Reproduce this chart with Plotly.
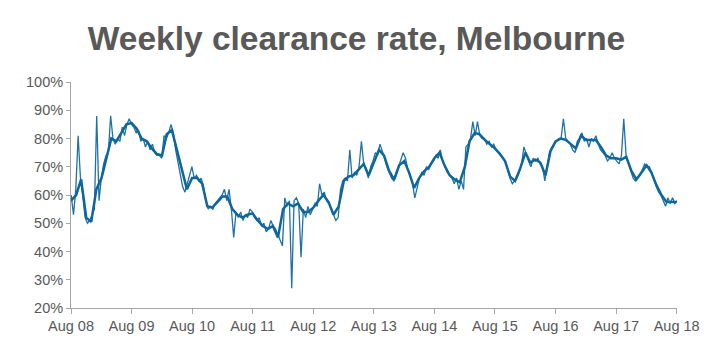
import pandas as pd
import plotly.graph_objects as go

# Weekly clearance rate (read roughly fortnightly from the chart), %
raw_y1 = [60, 53, 62, 81, 66, 60, 52, 50, 51, 53, 55, 88, 58, 66, 71, 74, 75, 88, 80, 78, 80, 79, 84, 81, 85, 87]
raw_y2 = [85, 84, 82, 83, 79, 80, 77, 79, 76, 78, 75, 74, 74, 73, 81, 80, 82, 85, 82, 76, 72, 68, 63, 61, 64, 66]
raw_y3 = [70, 66, 67, 65, 66, 63, 58, 55, 56, 55, 57, 58, 59, 60, 62, 58, 62, 55, 45, 54, 52, 54, 51, 53, 52, 55]
raw_y4 = [54, 52, 51, 52, 49, 50, 47, 48, 51, 49, 48, 46, 44, 42, 59, 56, 58, 27, 58, 59, 57, 38, 55, 52, 56, 53]
raw_y5 = [55, 57, 56, 64, 60, 61, 58, 57, 55, 53, 51, 52, 62, 65, 66, 65, 76, 66, 68, 67, 70, 79, 71, 69, 66, 70]
raw_y6 = [72, 75, 74, 78, 75, 73, 70, 68, 66, 65, 67, 70, 73, 75, 73, 69, 67, 64, 59, 63, 66, 68, 67, 70, 69, 71]
raw_y7 = [72, 74, 73, 76, 72, 70, 68, 67, 66, 64, 66, 62, 65, 62, 77, 78, 80, 86, 81, 86, 81, 80, 80, 78, 79, 77]
raw_y8 = [78, 76, 75, 74, 73, 72, 69, 66, 64, 65, 66, 68, 71, 77, 74, 72, 70, 73, 72, 73, 71, 70, 65, 70, 75, 77]
raw_y9 = [78, 79, 80, 80, 87, 80, 79, 78, 76, 75, 79, 80, 82, 79, 80, 77, 80, 79, 81, 78, 76, 75, 74, 72, 73, 75]
raw_y10 = [73, 72, 71, 74, 87, 74, 71, 68, 66, 65, 66, 67, 69, 71, 70, 70, 68, 65, 63, 61, 60, 58, 56, 59, 57, 59, 57, 58]
raw_values = raw_y1 + raw_y2 + raw_y3 + raw_y4 + raw_y5 + raw_y6 + raw_y7 + raw_y8 + raw_y9 + raw_y10
raw_dates = pd.date_range("2008-08-02", periods=len(raw_values), freq="14D")

# Smoothed (4-week average) read monthly, %
avg_values = [
    58, 60, 65.5, 52, 50.5, 62, 66, 73, 80, 79, 82, 85,
    85.5, 83.5, 80, 79, 76.5, 74.5, 74, 81.5, 83, 76, 68, 62,
    66, 66, 64, 56, 55.5, 57.5, 59.5, 59.5, 55, 53, 52, 53,
    53.5, 51, 49, 48, 49, 45, 55, 57, 56, 57, 54, 54,
    55.5, 58, 60, 57.5, 53, 56, 65, 66.5, 67, 69, 71, 67,
    71.5, 76, 74, 68.5, 65.5, 70.5, 72, 68, 62.5, 66, 68.5, 70,
    73, 75, 70.5, 67, 65.5, 64.5, 70, 79, 82, 81.5, 79.5, 78,
    76.5, 74.5, 72, 66.5, 65, 69.5, 75, 71.5, 72.5, 71.5, 67, 75.5,
    79, 80, 79.5, 78, 76.5, 81, 79.5, 79.5, 79.5, 77, 74, 73,
    73, 72.5, 73.5, 68.5, 65.5, 68, 70.5, 68, 63.5, 60, 57.5, 57.5,
    57.5,
]
avg_dates = pd.date_range("2008-08-01", periods=len(avg_values), freq="MS")

tick_vals = pd.date_range("2008-08-01", "2018-08-01", freq="12MS")
tick_text = ["Aug " + d.strftime("%y") for d in tick_vals]
y_ticks = [20, 30, 40, 50, 60, 70, 80, 90, 100]
y_text = [f"{v}%" for v in y_ticks]

fig = go.Figure()
fig.add_trace(go.Scatter(x=raw_dates, y=raw_values, mode="lines",
                         line=dict(color="#1f72a6", width=1.3), hoverinfo="skip"))
fig.add_trace(go.Scatter(x=avg_dates, y=avg_values, mode="lines",
                         line=dict(color="#0f669b", width=2.5)))

axis_font = dict(family="Liberation Sans, Arial, sans-serif", size=14.5, color="#595959")
fig.update_layout(
    width=726, height=353,
    margin=dict(l=71, r=48.5, t=82, b=45),
    paper_bgcolor="white", plot_bgcolor="white",
    showlegend=False,
    title=dict(text="Weekly clearance rate, Melbourne",
               font=dict(family="Liberation Sans, Arial, sans-serif", size=33.5,
                         color="#595959", weight="bold"),
               x=356.5 / 726, xref="container", xanchor="center",
               y=1 - 38 / 353, yref="container", yanchor="middle"),
    xaxis=dict(range=["2008-08-01", "2018-08-03"], tickmode="array",
               tickvals=tick_vals, ticktext=tick_text, showgrid=False,
               showline=True, linecolor="#a6a6a6", linewidth=1,
               ticks="outside", ticklen=5, tickcolor="#a6a6a6",
               tickfont=axis_font, zeroline=False),
    yaxis=dict(range=[20, 100], tickmode="array", tickvals=y_ticks, ticktext=y_text,
               showgrid=False, showline=True, linecolor="#a6a6a6", linewidth=1,
               ticks="outside", ticklen=4, tickcolor="#a6a6a6",
               tickfont=axis_font, zeroline=False),
)

fig.write_html("out.html")
